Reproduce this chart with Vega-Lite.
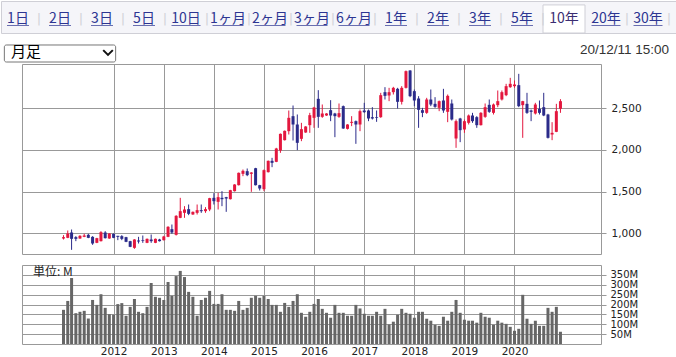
{
"$schema": "https://vega.github.io/schema/vega-lite/v6.json",
"padding": 0,
"background": "white",
"spacing": 0,
"config": {"view": {"stroke": null}, "font": "DejaVu Sans"},
"datasets": {
"tabs": [
{"tab":"1日","sel":false},{"tab":"2日","sel":false},{"tab":"3日","sel":false},{"tab":"5日","sel":false},{"tab":"10日","sel":false},{"tab":"1ヶ月","sel":false},{"tab":"2ヶ月","sel":false},{"tab":"3ヶ月","sel":false},{"tab":"6ヶ月","sel":false},{"tab":"1年","sel":false},{"tab":"2年","sel":false},{"tab":"3年","sel":false},{"tab":"5年","sel":false},{"tab":"10年","sel":true},{"tab":"20年","sel":false},{"tab":"30年","sel":false}
],
"px": [
{"d":"2011-01-01","o":936,"h":976,"l":924,"c":952,"v":173},
{"d":"2011-02-01","o":944,"h":1032,"l":940,"c":996,"v":218},
{"d":"2011-03-01","o":1008,"h":1044,"l":800,"c":932,"v":334},
{"d":"2011-04-01","o":952,"h":964,"l":904,"c":932,"v":156},
{"d":"2011-05-01","o":936,"h":976,"l":932,"c":968,"v":163},
{"d":"2011-06-01","o":956,"h":992,"l":952,"c":972,"v":168},
{"d":"2011-07-01","o":980,"h":992,"l":940,"c":944,"v":129},
{"d":"2011-08-01","o":956,"h":964,"l":860,"c":876,"v":223},
{"d":"2011-09-01","o":884,"h":944,"l":880,"c":940,"v":198},
{"d":"2011-10-01","o":904,"h":1024,"l":900,"c":1012,"v":252},
{"d":"2011-11-01","o":1008,"h":1024,"l":936,"c":940,"v":183},
{"d":"2011-12-01","o":936,"h":1000,"l":932,"c":996,"v":151},
{"d":"2012-01-01","o":992,"h":996,"l":940,"c":944,"v":148},
{"d":"2012-02-01","o":968,"h":968,"l":916,"c":956,"v":202},
{"d":"2012-03-01","o":964,"h":976,"l":916,"c":932,"v":207},
{"d":"2012-04-01","o":952,"h":956,"l":892,"c":896,"v":143},
{"d":"2012-05-01","o":904,"h":908,"l":832,"c":836,"v":188},
{"d":"2012-06-01","o":824,"h":928,"l":812,"c":924,"v":228},
{"d":"2012-07-01","o":912,"h":956,"l":876,"c":900,"v":163},
{"d":"2012-08-01","o":916,"h":972,"l":884,"c":908,"v":156},
{"d":"2012-09-01","o":884,"h":936,"l":880,"c":932,"v":188},
{"d":"2012-10-01","o":924,"h":984,"l":884,"c":904,"v":309},
{"d":"2012-11-01","o":884,"h":936,"l":880,"c":932,"v":239},
{"d":"2012-12-01","o":924,"h":932,"l":900,"c":904,"v":234},
{"d":"2013-01-01","o":916,"h":968,"l":912,"c":960,"v":223},
{"d":"2013-02-01","o":956,"h":1084,"l":952,"c":1076,"v":314},
{"d":"2013-03-01","o":1048,"h":1104,"l":992,"c":1008,"v":244},
{"d":"2013-04-01","o":980,"h":1216,"l":972,"c":1208,"v":344},
{"d":"2013-05-01","o":1184,"h":1424,"l":1180,"c":1264,"v":370},
{"d":"2013-06-01","o":1244,"h":1324,"l":1184,"c":1284,"v":339},
{"d":"2013-07-01","o":1288,"h":1344,"l":1216,"c":1232,"v":264},
{"d":"2013-08-01","o":1224,"h":1260,"l":1220,"c":1256,"v":239},
{"d":"2013-09-01","o":1244,"h":1344,"l":1224,"c":1276,"v":143},
{"d":"2013-10-01","o":1276,"h":1344,"l":1244,"c":1264,"v":223},
{"d":"2013-11-01","o":1264,"h":1312,"l":1244,"c":1288,"v":234},
{"d":"2013-12-01","o":1284,"h":1424,"l":1264,"c":1420,"v":269},
{"d":"2014-01-01","o":1424,"h":1480,"l":1344,"c":1384,"v":203},
{"d":"2014-02-01","o":1376,"h":1484,"l":1284,"c":1432,"v":203},
{"d":"2014-03-01","o":1424,"h":1504,"l":1324,"c":1408,"v":252},
{"d":"2014-04-01","o":1432,"h":1436,"l":1256,"c":1416,"v":173},
{"d":"2014-05-01","o":1408,"h":1520,"l":1404,"c":1516,"v":173},
{"d":"2014-06-01","o":1504,"h":1588,"l":1500,"c":1584,"v":168},
{"d":"2014-07-01","o":1576,"h":1728,"l":1572,"c":1724,"v":218},
{"d":"2014-08-01","o":1712,"h":1764,"l":1684,"c":1748,"v":173},
{"d":"2014-09-01","o":1744,"h":1776,"l":1684,"c":1696,"v":183},
{"d":"2014-10-01","o":1712,"h":1732,"l":1496,"c":1728,"v":234},
{"d":"2014-11-01","o":1780,"h":1784,"l":1572,"c":1576,"v":244},
{"d":"2014-12-01","o":1576,"h":1580,"l":1512,"c":1536,"v":234},
{"d":"2015-01-01","o":1528,"h":1764,"l":1504,"c":1756,"v":244},
{"d":"2015-02-01","o":1732,"h":1872,"l":1728,"c":1868,"v":228},
{"d":"2015-03-01","o":1868,"h":1904,"l":1792,"c":1844,"v":198},
{"d":"2015-04-01","o":1856,"h":2024,"l":1852,"c":2016,"v":198},
{"d":"2015-05-01","o":1992,"h":2196,"l":1964,"c":2192,"v":163},
{"d":"2015-06-01","o":2116,"h":2232,"l":2112,"c":2228,"v":208},
{"d":"2015-07-01","o":2224,"h":2472,"l":2184,"c":2384,"v":188},
{"d":"2015-08-01","o":2404,"h":2532,"l":2112,"c":2304,"v":218},
{"d":"2015-09-01","o":2304,"h":2424,"l":1996,"c":2084,"v":252},
{"d":"2015-10-01","o":2132,"h":2324,"l":2104,"c":2248,"v":158},
{"d":"2015-11-01","o":2208,"h":2284,"l":2204,"c":2280,"v":138},
{"d":"2015-12-01","o":2296,"h":2444,"l":2204,"c":2416,"v":163},
{"d":"2016-01-01","o":2384,"h":2516,"l":2264,"c":2508,"v":203},
{"d":"2016-02-01","o":2612,"h":2716,"l":2264,"c":2396,"v":228},
{"d":"2016-03-01","o":2396,"h":2544,"l":2384,"c":2436,"v":178},
{"d":"2016-04-01","o":2412,"h":2440,"l":2408,"c":2436,"v":158},
{"d":"2016-05-01","o":2476,"h":2596,"l":2344,"c":2412,"v":133},
{"d":"2016-06-01","o":2436,"h":2444,"l":2152,"c":2404,"v":198},
{"d":"2016-07-01","o":2396,"h":2556,"l":2384,"c":2440,"v":158},
{"d":"2016-08-01","o":2524,"h":2532,"l":2252,"c":2256,"v":158},
{"d":"2016-09-01","o":2252,"h":2308,"l":2244,"c":2304,"v":143},
{"d":"2016-10-01","o":2324,"h":2404,"l":2284,"c":2336,"v":143},
{"d":"2016-11-01","o":2344,"h":2352,"l":2072,"c":2304,"v":198},
{"d":"2016-12-01","o":2304,"h":2484,"l":2224,"c":2464,"v":180},
{"d":"2017-01-01","o":2472,"h":2564,"l":2444,"c":2452,"v":153},
{"d":"2017-02-01","o":2472,"h":2484,"l":2344,"c":2376,"v":143},
{"d":"2017-03-01","o":2392,"h":2512,"l":2364,"c":2376,"v":143},
{"d":"2017-04-01","o":2392,"h":2472,"l":2336,"c":2384,"v":163},
{"d":"2017-05-01","o":2392,"h":2684,"l":2384,"c":2656,"v":143},
{"d":"2017-06-01","o":2692,"h":2752,"l":2604,"c":2648,"v":178},
{"d":"2017-07-01","o":2652,"h":2744,"l":2584,"c":2692,"v":99},
{"d":"2017-08-01","o":2692,"h":2756,"l":2664,"c":2744,"v":113},
{"d":"2017-09-01","o":2732,"h":2744,"l":2496,"c":2576,"v":148},
{"d":"2017-10-01","o":2576,"h":2764,"l":2544,"c":2744,"v":178},
{"d":"2017-11-01","o":2744,"h":2952,"l":2736,"c":2944,"v":158},
{"d":"2017-12-01","o":2952,"h":2956,"l":2632,"c":2644,"v":153},
{"d":"2018-01-01","o":2704,"h":2724,"l":2524,"c":2592,"v":133},
{"d":"2018-02-01","o":2616,"h":2644,"l":2264,"c":2480,"v":163},
{"d":"2018-03-01","o":2476,"h":2504,"l":2392,"c":2444,"v":163},
{"d":"2018-04-01","o":2444,"h":2624,"l":2432,"c":2604,"v":128},
{"d":"2018-05-01","o":2604,"h":2724,"l":2524,"c":2544,"v":118},
{"d":"2018-06-01","o":2552,"h":2632,"l":2504,"c":2516,"v":97},
{"d":"2018-07-01","o":2504,"h":2592,"l":2464,"c":2584,"v":92},
{"d":"2018-08-01","o":2592,"h":2732,"l":2444,"c":2472,"v":138},
{"d":"2018-09-01","o":2456,"h":2664,"l":2332,"c":2648,"v":118},
{"d":"2018-10-01","o":2556,"h":2604,"l":2352,"c":2364,"v":163},
{"d":"2018-11-01","o":2136,"h":2364,"l":2024,"c":2344,"v":223},
{"d":"2018-12-01","o":2376,"h":2384,"l":2092,"c":2236,"v":158},
{"d":"2019-01-01","o":2244,"h":2364,"l":2204,"c":2344,"v":123},
{"d":"2019-02-01","o":2324,"h":2424,"l":2304,"c":2412,"v":118},
{"d":"2019-03-01","o":2412,"h":2444,"l":2324,"c":2344,"v":118},
{"d":"2019-04-01","o":2392,"h":2404,"l":2264,"c":2296,"v":108},
{"d":"2019-05-01","o":2296,"h":2452,"l":2292,"c":2444,"v":158},
{"d":"2019-06-01","o":2396,"h":2556,"l":2384,"c":2512,"v":138},
{"d":"2019-07-01","o":2540,"h":2604,"l":2444,"c":2456,"v":133},
{"d":"2019-08-01","o":2444,"h":2556,"l":2424,"c":2544,"v":97},
{"d":"2019-09-01","o":2536,"h":2712,"l":2512,"c":2584,"v":118},
{"d":"2019-10-01","o":2604,"h":2712,"l":2592,"c":2692,"v":108},
{"d":"2019-11-01","o":2656,"h":2792,"l":2644,"c":2764,"v":102},
{"d":"2019-12-01","o":2752,"h":2864,"l":2744,"c":2792,"v":87},
{"d":"2020-01-01","o":2764,"h":2832,"l":2744,"c":2784,"v":67},
{"d":"2020-02-01","o":2776,"h":2912,"l":2512,"c":2524,"v":77},
{"d":"2020-03-01","o":2536,"h":2588,"l":2144,"c":2584,"v":249},
{"d":"2020-04-01","o":2552,"h":2684,"l":2432,"c":2444,"v":128},
{"d":"2020-05-01","o":2472,"h":2484,"l":2344,"c":2456,"v":102},
{"d":"2020-06-01","o":2436,"h":2564,"l":2424,"c":2544,"v":118},
{"d":"2020-07-01","o":2492,"h":2592,"l":2424,"c":2444,"v":92},
{"d":"2020-08-01","o":2512,"h":2684,"l":2404,"c":2412,"v":92},
{"d":"2020-09-01","o":2424,"h":2432,"l":2136,"c":2144,"v":183},
{"d":"2020-10-01","o":2184,"h":2332,"l":2116,"c":2204,"v":163},
{"d":"2020-11-01","o":2216,"h":2552,"l":2212,"c":2464,"v":188},
{"d":"2020-12-01","o":2492,"h":2608,"l":2444,"c":2584,"v":62}
]
},
"vconcat": [
{
"width": 676, "height": 32,
"view": {"fill": "#f5f5f9", "stroke": "#cfcfd6"},
"data": {"name": "tabs"},
"encoding": {
"x": {"field": "tab", "type": "nominal", "sort": null, "axis": null,
"scale": {"domain": ["1日","2日","3日","5日","10日","1ヶ月","2ヶ月","3ヶ月","6ヶ月","1年","2年","3年","5年","10年","20年","30年"], "range": [-4, 668], "paddingInner": 0, "paddingOuter": 0}}
},
"layer": [
{"transform": [{"filter": "datum.sel"}],
"mark": {"type": "rect", "fill": "white", "stroke": "#cfcfd6", "strokeWidth": 1},
"encoding": {"y": {"datum": "t", "type": "nominal", "axis": null, "scale": {"paddingOuter": 0.07, "paddingInner": 0, "align": 1}}}},
{"transform": [{"filter": "!datum.sel"}],
"mark": {"type": "text", "text": "|", "fontSize": 13, "color": "#d2d2d8", "baseline": "middle", "dy": 2},
"encoding": {"x": {"field": "tab", "type": "nominal", "sort": null, "bandPosition": 1}}},
{"mark": {"type": "text", "fontSize": 14, "font": "Noto Sans CJK JP", "baseline": "middle", "dy": 2},
"encoding": {
"text": {"field": "tab"},
"color": {"condition": {"test": "datum.sel", "value": "#3b2d72"}, "value": "#2d3592"},
"fontWeight": {"condition": {"test": "datum.sel", "value": "bold"}, "value": "normal"}
}},
{"transform": [{"filter": "!datum.sel"}],
"mark": {"type": "tick", "orient": "horizontal", "thickness": 1, "yOffset": 8.5, "color": "#2d3592"},
"encoding": {"size": {"condition": [{"test": "indexof(datum.tab, 'ヶ') >= 0", "value": 31}, {"test": "length(datum.tab) == 3", "value": 29}], "value": 22}}}
]
},
{
"width": 676, "height": 28,
"data": {"values": [{"item": "header"}]},
"encoding": {
"x": {"datum": "2日", "type": "nominal", "axis": null,
"scale": {"domain": ["1日","2日","3日","5日","10日","1ヶ月","2ヶ月","3ヶ月","6ヶ月","1年","2年","3年","5年","10年","20年","30年"], "range": [-4, 668], "paddingInner": 0, "paddingOuter": 0}},
"y": {"datum": "h", "type": "nominal", "axis": null, "scale": {"paddingOuter": 0.3235, "paddingInner": 0, "align": 1}}
},
"layer": [
{"mark": {"type": "bar", "fill": "white", "stroke": "#767676", "strokeWidth": 1, "cornerRadius": 2, "width": {"band": 2.65}}},
{"mark": {"type": "text", "text": "月足", "font": "Noto Sans CJK JP", "fontSize": 15, "color": "#000000", "align": "left", "baseline": "middle", "dx": 14, "dy": -1},
"encoding": {"x": {"datum": "1日", "type": "nominal", "bandPosition": 0}}},
{"mark": {"type": "point", "shape": "M-0.8,-0.4L0,0.4L0.8,-0.4", "filled": false, "size": 144, "strokeWidth": 2, "color": "#111111", "opacity": 1, "xOffset": 6, "yOffset": -1},
"encoding": {"x": {"datum": "3日", "type": "nominal"}}},
{"mark": {"type": "text", "text": "20/12/11 15:00", "font": "Liberation Sans", "fontSize": 13.5, "color": "#333333", "align": "right", "baseline": "middle", "dy": -3.5},
"encoding": {"x": {"datum": "30年", "type": "nominal", "bandPosition": 1}}}
]
},
{
"spacing": 19,
"hconcat": [
{"width": 1, "height": 1, "data": {"values": []}, "mark": "point", "encoding": {}},
{
"spacing": 9,
"vconcat": [
{
"width": 579, "height": 190,
"view": {"stroke": "#999999"},
"data": {"name": "px"},
"encoding": {
"x": {"field": "d", "type": "temporal",
"scale": {"type": "utc", "domain": [{"year": 2010, "month": 4, "date": 10, "utc": true}, {"year": 2021, "month": 8, "date": 17, "utc": true}]},
"axis": {"values": [{"year":2012,"utc":true},{"year":2013,"utc":true},{"year":2014,"utc":true},{"year":2015,"utc":true},{"year":2016,"utc":true},{"year":2017,"utc":true},{"year":2018,"utc":true},{"year":2019,"utc":true},{"year":2020,"utc":true}],
"grid": true, "gridColor": "#999999", "gridOpacity": 1, "labels": false, "ticks": false, "domain": false, "title": null}},
"color": {"condition": {"test": "datum.c >= datum.o", "value": "#e3173e"}, "value": "#2b2b8a"}
},
"layer": [
{"mark": {"type": "rule", "strokeWidth": 1},
"encoding": {
"y": {"field": "l", "type": "quantitative",
"scale": {"domain": [750, 3030], "nice": false, "zero": false},
"axis": {"orient": "right", "values": [1000, 1500, 2000, 2500], "format": ",d", "grid": true, "gridColor": "#999999", "gridOpacity": 1, "domain": false, "tickColor": "#999999", "tickSize": 5, "labelPadding": 5, "labelFontSize": 10.5, "labelFont": "DejaVu Sans", "labelColor": "#222222", "title": null}},
"y2": {"field": "h"}
}},
{"mark": {"type": "bar", "width": 3},
"encoding": {"y": {"field": "o", "type": "quantitative"}, "y2": {"field": "c"}}}
]
},
{
"width": 579, "height": 79,
"view": {"stroke": "#999999"},
"encoding": {
"x": {"field": "d", "type": "temporal",
"scale": {"type": "utc", "domain": [{"year": 2010, "month": 4, "date": 10, "utc": true}, {"year": 2021, "month": 8, "date": 17, "utc": true}]},
"axis": {"values": [{"year":2012,"utc":true},{"year":2013,"utc":true},{"year":2014,"utc":true},{"year":2015,"utc":true},{"year":2016,"utc":true},{"year":2017,"utc":true},{"year":2018,"utc":true},{"year":2019,"utc":true},{"year":2020,"utc":true}],
"format": "%Y", "grid": true, "gridColor": "#999999", "gridOpacity": 1, "ticks": false, "domain": false, "labelPadding": 2, "labelFontSize": 10.5, "labelFont": "DejaVu Sans", "labelColor": "#222222", "labelFlush": false, "labelOverlap": false, "title": null}},
"y": {"field": "v", "type": "quantitative",
"scale": {"domain": [0, 400], "nice": false},
"axis": {"orient": "right", "values": [50, 100, 150, 200, 250, 300, 350], "labelExpr": "datum.value + 'M'", "grid": true, "gridColor": "#999999", "gridOpacity": 1, "domain": false, "tickColor": "#999999", "tickSize": 5, "labelPadding": 4, "labelFontSize": 10, "labelFont": "DejaVu Sans", "labelColor": "#222222", "labelOverlap": false, "title": null}}
},
"layer": [
{"data": {"name": "px"}, "mark": {"type": "bar", "width": 3, "color": "#666666"}},
{"data": {"values": [{"label": "単位: M", "d": "2010-04-10", "v": 400}]},
"mark": {"type": "text", "font": "Noto Sans CJK JP", "fontSize": 12, "color": "#222222", "align": "left", "baseline": "top", "dx": 6, "dy": 2},
"encoding": {"text": {"field": "label"}}}
]
}
]
}
]
}
]
}
